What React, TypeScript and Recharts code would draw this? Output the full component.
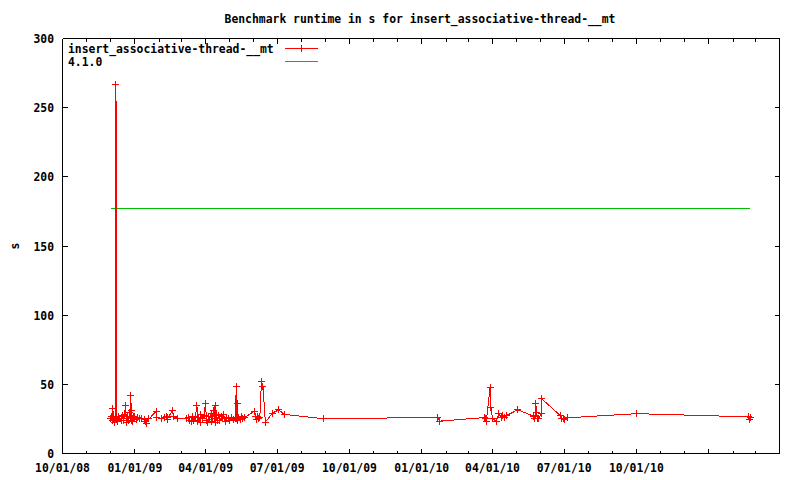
import React from 'react';
import { LineChart, Line, XAxis, YAxis } from 'recharts';

const TITLE = 'Benchmark runtime in s for insert_associative-thread-__mt';
const SERIES_NAME = 'insert_associative-thread-__mt';
const REF_NAME = '4.1.0';
const Y_LABEL = 's';

const runDates = [
  '2008-12-01', '2008-12-02', '2008-12-03', '2008-12-04', '2008-12-05', '2008-12-06', '2008-12-07',
  '2008-12-08', '2008-12-09T06:00', '2008-12-10', '2008-12-11',
  '2008-12-13', '2008-12-15', '2008-12-16', '2008-12-17', '2008-12-18', '2008-12-19', '2008-12-20',
  '2008-12-21', '2008-12-22', '2008-12-23', '2008-12-24', '2008-12-25', '2008-12-26', '2008-12-27',
  '2008-12-27T12:00', '2008-12-28', '2008-12-29', '2008-12-30', '2008-12-31', '2009-01-01', '2009-01-03',
  '2009-01-05', '2009-01-07', '2009-01-09', '2009-01-13', '2009-01-15', '2009-01-16', '2009-01-19',
  '2009-01-28', '2009-01-29', '2009-02-04', '2009-02-08', '2009-02-10', '2009-02-11', '2009-02-12',
  '2009-02-18', '2009-02-19', '2009-02-24', '2009-03-08', '2009-03-10', '2009-03-12', '2009-03-14',
  '2009-03-15', '2009-03-17', '2009-03-19', '2009-03-21', '2009-03-22', '2009-03-23', '2009-03-25',
  '2009-03-26', '2009-03-28', '2009-03-30', '2009-04-01', '2009-04-02', '2009-04-03', '2009-04-05',
  '2009-04-06', '2009-04-08', '2009-04-09', '2009-04-11', '2009-04-12', '2009-04-13', '2009-04-14',
  '2009-04-15', '2009-04-16', '2009-04-18', '2009-04-19', '2009-04-21', '2009-04-23', '2009-04-24',
  '2009-04-26', '2009-04-28', '2009-04-30', '2009-05-02', '2009-05-04', '2009-05-07', '2009-05-09',
  '2009-05-10', '2009-05-10T12:00', '2009-05-11', '2009-05-12', '2009-05-13', '2009-05-15', '2009-05-17',
  '2009-05-18', '2009-05-21', '2009-06-02', '2009-06-04', '2009-06-05', '2009-06-06', '2009-06-07',
  '2009-06-09', '2009-06-11', '2009-06-13', '2009-06-16', '2009-06-25', '2009-07-03', '2009-07-10',
  '2009-08-29', '2010-01-21', '2010-01-24', '2010-03-22', '2010-03-23', '2010-03-24', '2010-03-29',
  '2010-03-30', '2010-04-01', '2010-04-06', '2010-04-09', '2010-04-12', '2010-04-14', '2010-04-16',
  '2010-04-19', '2010-05-03', '2010-05-23', '2010-05-25', '2010-05-26', '2010-05-27', '2010-05-28',
  '2010-05-29', '2010-06-02', '2010-06-02T12:00', '2010-06-26', '2010-06-28', '2010-06-30', '2010-07-01',
  '2010-07-05', '2010-10-01', '2011-02-21', '2011-02-22', '2011-02-22T12:00',
];

const runtimes = [
  25.5, 26.5, 24.0, 32.5, 25.0, 22.5, 26.0,
  267.0, 24.5, 23.0, 26.5,
  25.0, 24.0, 27.5, 25.5, 23.5, 28.5, 34.5,
  25.0, 22.5, 27.0, 24.0, 29.5, 25.5, 41.8,
  24.0, 31.0, 23.0, 27.0, 25.0, 26.5, 24.5,
  26.0, 25.5, 25.0, 24.5, 23.0, 22.0, 25.0,
  30.5, 26.0, 25.5, 26.0, 27.0, 24.5, 26.0,
  31.0, 26.5, 25.5, 25.5, 26.0, 24.0, 23.0,
  26.5, 24.0, 27.0, 34.8, 23.0, 26.0, 22.5,
  28.5, 25.0, 27.5, 36.5, 24.0, 22.5, 27.0,
  24.5, 29.0, 23.0, 31.0, 25.0, 34.5, 22.5,
  28.0, 24.0, 27.5, 23.5, 26.5, 25.0, 28.5,
  23.0, 26.0, 25.0, 23.5, 26.0, 24.5, 25.5,
  48.6, 25.0, 36.0, 24.0, 26.0, 24.5, 26.5,
  25.0, 26.0, 30.7, 26.5, 24.5, 27.0, 25.0,
  26.0, 51.7, 48.6, 22.7, 29.2, 31.6, 28.3,
  25.1, 26.1, 23.4, 26.0, 25.0, 23.0, 48.0,
  33.5, 25.0, 23.4, 28.8, 26.0, 27.5, 26.0,
  27.5, 31.6, 27.0, 25.5, 36.0, 30.0, 25.5,
  25.0, 28.8, 39.6, 27.5, 25.0, 25.5, 24.5,
  25.8, 28.8, 26.5, 24.8, 26.0,
];

const refDates = ['2008-12-02', '2011-02-22'];
const refValues = [177, 177];

const monthTicks = [
  '2008-10-01', '2008-11-01', '2008-12-01', '2009-01-01', '2009-02-01', '2009-03-01', '2009-04-01',
  '2009-05-01', '2009-06-01', '2009-07-01', '2009-08-01', '2009-09-01', '2009-10-01', '2009-11-01',
  '2009-12-01', '2010-01-01', '2010-02-01', '2010-03-01', '2010-04-01', '2010-05-01', '2010-06-01',
  '2010-07-01', '2010-08-01', '2010-09-01', '2010-10-01', '2010-11-01', '2010-12-01', '2011-01-01',
  '2011-02-01', '2011-03-01', '2011-04-01',
];
const labeledTicks = [
  '2008-10-01', '2009-01-01', '2009-04-01', '2009-07-01', '2009-10-01',
  '2010-01-01', '2010-04-01', '2010-07-01', '2010-10-01',
];
const xDomainDates = ['2008-10-01', '2011-04-01'];
const yTicks = [0, 50, 100, 150, 200, 250, 300];
const yDomain = [0, 300];

const FONT = "'DejaVu Sans Mono', 'Liberation Mono', monospace";
const textStyle = { fontFamily: FONT, fontWeight: 700, fontSize: 11.4, fill: '#000' } as const;

const toTime = (s: string) => Date.parse(s.includes('T') ? s + ':00Z' : s + 'T00:00:00Z');
const pad = (n: number) => (n < 10 ? '0' + n : '' + n);
const fmtDate = (ms: number) => {
  const d = new Date(ms);
  return `${pad(d.getUTCMonth() + 1)}/${pad(d.getUTCDate())}/${pad(d.getUTCFullYear() % 100)}`;
};

const runData = runDates.map((d, i) => ({ t: toTime(d), v: runtimes[i] }));
const refData = refDates.map((d, i) => ({ t: toTime(d), v: refValues[i] }));
const monthTicksMs = monthTicks.map(toTime);
const labeledMs = new Set(labeledTicks.map(toTime));
const xDomain = xDomainDates.map(toTime);

const tickLen = (ms: number) => (new Date(ms).getUTCMonth() % 3 === 0 ? 5 : 3);

const BottomTick = (p: any) => {
  const { x, y, payload } = p;
  const ms = payload.value as number;
  return (
    <g key={`b-${ms}`}>
      <line x1={x} y1={y} x2={x} y2={y - tickLen(ms)} stroke="#000" />
      {labeledMs.has(ms) && (
        <text x={x} y={y + 18.5} textAnchor="middle" style={textStyle}>
          {fmtDate(ms)}
        </text>
      )}
    </g>
  );
};

const TopTick = (p: any) => {
  const { x, y, payload } = p;
  const ms = payload.value as number;
  return <line key={`t-${ms}`} x1={x} y1={y} x2={x} y2={y + tickLen(ms)} stroke="#000" />;
};

const LeftTick = (p: any) => {
  const { x, y, payload } = p;
  return (
    <g key={`l-${payload.value}`}>
      <line x1={x} y1={y} x2={x + 5} y2={y} stroke="#000" />
      <text x={x - 8.5} y={y + 4.5} textAnchor="end" style={textStyle}>
        {payload.value}
      </text>
    </g>
  );
};

const RightTick = (p: any) => {
  const { x, y, payload } = p;
  return <line key={`r-${payload.value}`} x1={x} y1={y} x2={x - 5} y2={y} stroke="#000" />;
};

const Plus = (p: any) => {
  const { cx, cy, stroke, index } = p;
  if (cx == null || cy == null) return <g key={`p-${index}`} />;
  return (
    <path
      key={`p-${index}`}
      d={`M${cx - 3.5},${cy}H${cx + 3.5}M${cx},${cy - 3.5}V${cy + 3.5}`}
      stroke={stroke}
      strokeWidth={1}
      fill="none"
    />
  );
};

const YLabel = (p: any) => {
  const vb = p.viewBox;
  const x = vb.x + 14;
  const y = vb.y + vb.height / 2;
  return (
    <text x={x} y={y} transform={`rotate(-90 ${x} ${y})`} textAnchor="middle" dominantBaseline="central" style={textStyle}>
      {Y_LABEL}
    </text>
  );
};

export default function App() {
  return (
    <div style={{ position: 'absolute', left: 0, top: 0, width: 800, height: 480, background: '#fff', shapeRendering: 'crispEdges' }}>
      <LineChart width={800} height={480} margin={{ top: 0.5, right: 0, bottom: 0, left: 0.5 }}>
        <XAxis
          xAxisId="b"
          dataKey="t"
          type="number"
          orientation="bottom"
          domain={xDomain}
          ticks={monthTicksMs}
          interval={0}
          allowDataOverflow
          height={26.5}
          tickSize={0}
          tickMargin={0}
          tickLine={false}
          tick={BottomTick}
          axisLine={{ stroke: '#000' }}
        />
        <XAxis
          xAxisId="t"
          dataKey="t"
          type="number"
          orientation="top"
          domain={xDomain}
          ticks={monthTicksMs}
          interval={0}
          allowDataOverflow
          height={38}
          tickSize={0}
          tickMargin={0}
          tickLine={false}
          tick={TopTick}
          axisLine={{ stroke: '#000' }}
        />
        <YAxis
          yAxisId="l"
          type="number"
          domain={yDomain}
          ticks={yTicks}
          interval={0}
          allowDataOverflow
          width={62}
          tickSize={0}
          tickMargin={0}
          tickLine={false}
          tick={LeftTick}
          axisLine={{ stroke: '#000' }}
          label={{ value: Y_LABEL, content: YLabel }}
        />
        <YAxis
          yAxisId="r"
          type="number"
          orientation="right"
          domain={yDomain}
          ticks={yTicks}
          interval={0}
          allowDataOverflow
          width={20.5}
          tickSize={0}
          tickMargin={0}
          tickLine={false}
          tick={RightTick}
          axisLine={{ stroke: '#000' }}
        />
        <Line
          xAxisId="b"
          yAxisId="l"
          data={refData}
          dataKey="v"
          type="linear"
          stroke="#00c000"
          strokeWidth={1}
          dot={false}
          activeDot={false}
          isAnimationActive={false}
        />
        <Line
          xAxisId="b"
          yAxisId="l"
          data={runData}
          dataKey="v"
          type="linear"
          stroke="#ff0000"
          strokeWidth={1}
          dot={Plus}
          activeDot={false}
          isAnimationActive={false}
        />
      </LineChart>
      <svg width={800} height={480} style={{ position: 'absolute', left: 0, top: 0, pointerEvents: 'none' }}>
        <text x={420} y={23} textAnchor="middle" style={textStyle}>{TITLE}</text>
        <text x={68} y={53} textAnchor="start" style={textStyle}>{SERIES_NAME}</text>
        <line x1={285} y1={48.5} x2={318} y2={48.5} stroke="#ff0000" />
        <path d="M301.5,45V52M298,48.5H305" stroke="#ff0000" fill="none" />
        <text x={68} y={66} textAnchor="start" style={textStyle}>{REF_NAME}</text>
        <line x1={285} y1={61.5} x2={318} y2={61.5} stroke="#00c000" />
      </svg>
    </div>
  );
}
